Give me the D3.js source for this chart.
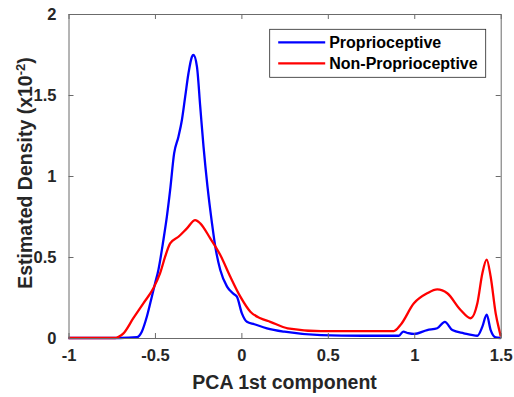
<!DOCTYPE html>
<html>
<head>
<meta charset="utf-8">
<script src="https://d3js.org/d3.v7.min.js"></script>
<style>
  body { margin: 0; background: #fff; }
  text { font-family: "Liberation Sans", Arial, sans-serif; font-weight: bold; }
</style>
</head>
<body>
<svg width="514" height="397"></svg>
<script>
// Proprioceptive density (x10^-2)
var propX = [-1, -0.7, -0.605, -0.576, -0.547, -0.518, -0.499, -0.48, -0.451, -0.431, -0.412, -0.389, -0.364, -0.344, -0.325, -0.306, -0.286, -0.277, -0.257, -0.238, -0.219, -0.196, -0.17, -0.151, -0.122, -0.083, -0.045, -0.026, 0.003, 0.032, 0.075, 0.148, 0.249, 0.461, 0.7, 0.911, 0.936, 0.965, 0.998, 1.075, 1.133, 1.177, 1.22, 1.287, 1.365, 1.394, 1.419, 1.442, 1.471, 1.5];
var propY = [0, 0, 0.005, 0.039, 0.131, 0.255, 0.338, 0.42, 0.605, 0.749, 0.914, 1.14, 1.243, 1.346, 1.49, 1.634, 1.736, 1.747, 1.675, 1.428, 1.181, 0.934, 0.708, 0.564, 0.42, 0.317, 0.272, 0.255, 0.152, 0.10, 0.085, 0.06, 0.039, 0.018, 0.014, 0.014, 0.039, 0.03, 0.025, 0.049, 0.06, 0.10, 0.049, 0.029, 0.014, 0.07, 0.144, 0.049, 0.004, 0];

// Non-Proprioceptive density (x10^-2)
var nonX = [-1, -0.73, -0.71, -0.682, -0.625, -0.567, -0.509, -0.47, -0.441, -0.412, -0.364, -0.315, -0.267, -0.238, -0.18, -0.122, -0.064, -0.006, 0.052, 0.11, 0.167, 0.268, 0.461, 0.7, 0.882, 0.92, 0.998, 1.075, 1.133, 1.191, 1.268, 1.326, 1.365, 1.394, 1.419, 1.442, 1.471, 1.496, 1.5];
var nonY = [0, 0, 0.008, 0.029, 0.122, 0.214, 0.307, 0.40, 0.502, 0.584, 0.625, 0.677, 0.728, 0.708, 0.615, 0.512, 0.378, 0.255, 0.162, 0.122, 0.10, 0.06, 0.043, 0.042, 0.043, 0.08, 0.214, 0.276, 0.30, 0.276, 0.173, 0.122, 0.214, 0.40, 0.484, 0.378, 0.152, 0.029, 0.01];

var xTicks = [-1, -0.5, 0, 0.5, 1, 1.5];
var yTicks = [0, 0.5, 1, 1.5, 2];
var seriesNames = ["Proprioceptive", "Non-Proprioceptive"];
var seriesColors = ["#0000ff", "#ff0000"];

var svg = d3.select("svg");
var margin = {left: 68.5, top: 14, right: 13.3, bottom: 59};
var W = 514, H = 397;
var x = d3.scaleLinear().domain([-1, 1.5]).range([margin.left, W - margin.right]);
var y = d3.scaleLinear().domain([0, 2]).range([H - margin.bottom, margin.top]);

var axisCol = "#6b6b6b", textCol = "#262626";
var fmt = d => String(d);  // plain hyphen for negatives, like the original

// curves
var line = d3.line().x(d => x(d[0])).y(d => y(d[1])).curve(d3.curveMonotoneX);
var series = [d3.zip(propX, propY), d3.zip(nonX, nonY)];
series.forEach((s, i) => {
  svg.append("path").attr("d", line(s))
    .attr("fill", "none").attr("stroke", seriesColors[i])
    .attr("stroke-width", 2.3).attr("stroke-linejoin", "round");
});

// axes (box with inward ticks)
var gx = svg.append("g").attr("transform", `translate(0,${y(0)})`)
  .call(d3.axisBottom(x).tickValues(xTicks).tickSizeInner(-5).tickSizeOuter(0).tickPadding(11).tickFormat(fmt));
var gxt = svg.append("g").attr("transform", `translate(0,${y(2)})`)
  .call(d3.axisTop(x).tickValues(xTicks).tickSizeInner(-5).tickSizeOuter(0).tickFormat(""));
var gy = svg.append("g").attr("transform", `translate(${x(-1)},0)`)
  .call(d3.axisLeft(y).tickValues(yTicks).tickSizeInner(-5).tickSizeOuter(0).tickPadding(12).tickFormat(fmt));
var gyr = svg.append("g").attr("transform", `translate(${x(1.5)},0)`)
  .call(d3.axisRight(y).tickValues(yTicks).tickSizeInner(-5).tickSizeOuter(0).tickFormat(""));
[gx, gxt, gy, gyr].forEach(g => {
  g.selectAll("path,line").attr("stroke", axisCol);
  g.selectAll("text").attr("fill", textCol).style("font-size", "16.5px");
});

// axis labels
svg.append("text").attr("x", x(0.25)).attr("y", 388.5)
  .attr("text-anchor", "middle").attr("fill", textCol).style("font-size", "19.5px")
  .text("PCA 1st component");
var yl = svg.append("text").attr("transform", `translate(32,${(y(0) + y(2)) / 2 - 3}) rotate(-90)`)
  .attr("text-anchor", "middle").attr("fill", textCol).style("font-size", "19.5px");
yl.append("tspan").text("Estimated Density (x10");
yl.append("tspan").attr("dy", -7).style("font-size", "13px").text("-2");
yl.append("tspan").attr("dy", 7).text(")");

// legend
var lg = svg.append("g").attr("transform", "translate(269.7,29.3)");
lg.append("rect").attr("width", 216).attr("height", 48)
  .attr("fill", "#fff").attr("stroke", "#262626").attr("stroke-width", 0.8);
seriesNames.forEach((n, i) => {
  var yy = 13 + i * 21;
  lg.append("line").attr("x1", 8.5).attr("x2", 55.5).attr("y1", yy).attr("y2", yy)
    .attr("stroke", seriesColors[i]).attr("stroke-width", 2.3);
  lg.append("text").attr("x", 59.5).attr("y", yy + 6).attr("fill", "#000")
    .style("font-size", "16px").text(n);
});
</script>
</body>
</html>
